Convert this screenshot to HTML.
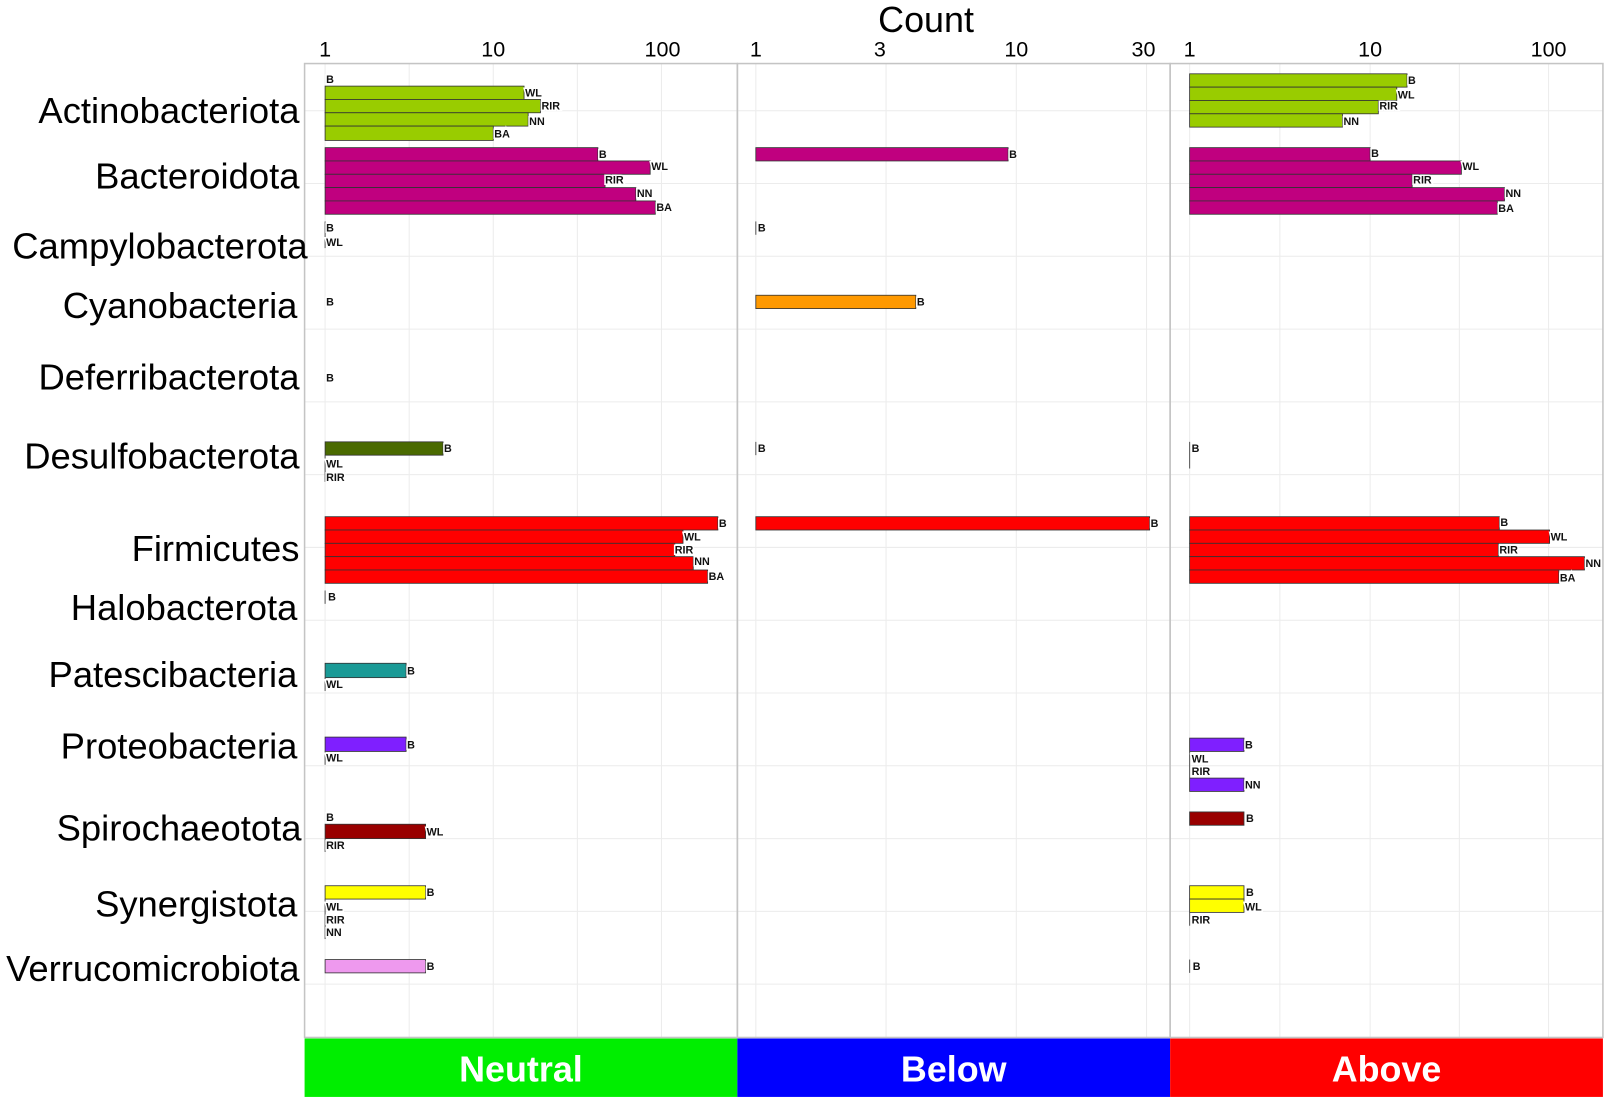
<!DOCTYPE html>
<html><head><meta charset="utf-8"><style>
html,body{margin:0;padding:0;background:#fff;}
svg{display:block;font-family:"Liberation Sans",Arial,sans-serif;}
.cat{font-size:35.5px;text-anchor:end;fill:#000;}
.tk{font-size:21px;text-anchor:middle;fill:#000;}
.lb{font-size:10.5px;font-weight:bold;fill:#111;paint-order:stroke;stroke:#fff;stroke-width:3px;}
.g{stroke:#ececec;stroke-width:1;}
.bar{stroke:#333;stroke-width:0.8;}
.strip{font-size:35px;font-weight:bold;fill:#fff;text-anchor:middle;}
.z{stroke:#555;stroke-width:1;}
</style></head><body>
<svg width="1606" height="1100" viewBox="0 0 1566 1073" preserveAspectRatio="none">
<rect x="0" y="0" width="1566" height="1073" fill="#fff"/>
<g class="g">
<line x1="297" x2="1563" y1="108" y2="108"/><line x1="297" x2="1563" y1="179" y2="179"/>
<line x1="297" x2="1563" y1="250" y2="250"/><line x1="297" x2="1563" y1="321" y2="321"/>
<line x1="297" x2="1563" y1="392" y2="392"/><line x1="297" x2="1563" y1="463" y2="463"/>
<line x1="297" x2="1563" y1="534" y2="534"/><line x1="297" x2="1563" y1="605" y2="605"/>
<line x1="297" x2="1563" y1="676" y2="676"/><line x1="297" x2="1563" y1="747" y2="747"/>
<line x1="297" x2="1563" y1="818" y2="818"/><line x1="297" x2="1563" y1="889" y2="889"/>
<line x1="297" x2="1563" y1="960" y2="960"/>
<line x1="317" x2="317" y1="62" y2="1012"/><line x1="399" x2="399" y1="62" y2="1012"/>
<line x1="481" x2="481" y1="62" y2="1012"/><line x1="563" x2="563" y1="62" y2="1012"/>
<line x1="645" x2="645" y1="62" y2="1012"/>
<line x1="737" x2="737" y1="62" y2="1012"/><line x1="864" x2="864" y1="62" y2="1012"/>
<line x1="991" x2="991" y1="62" y2="1012"/><line x1="1118" x2="1118" y1="62" y2="1012"/>
<line x1="1160" x2="1160" y1="62" y2="1012"/><line x1="1248" x2="1248" y1="62" y2="1012"/>
<line x1="1336" x2="1336" y1="62" y2="1012"/><line x1="1423" x2="1423" y1="62" y2="1012"/>
<line x1="1510" x2="1510" y1="62" y2="1012"/>
</g>
<g fill="none" stroke="#c4c4c4" stroke-width="1.5">
<rect x="297" y="62" width="422" height="950"/>
<rect x="719" y="62" width="422" height="950"/>
<rect x="1141" y="62" width="422" height="950"/>
</g>
<text x="903" y="31" font-size="35" text-anchor="middle">Count</text>
<text class="tk" x="317" y="55">1</text><text class="tk" x="481" y="55">10</text><text class="tk" x="646" y="55">100</text>
<text class="tk" x="737" y="55">1</text><text class="tk" x="858" y="55">3</text><text class="tk" x="991" y="55">10</text><text class="tk" x="1115" y="55">30</text>
<text class="tk" x="1160" y="55">1</text><text class="tk" x="1336" y="55">10</text><text class="tk" x="1510" y="55">100</text>
<text class="cat" x="292" y="120">Actinobacteriota</text>
<text class="cat" x="292" y="184">Bacteroidota</text>
<text class="cat" x="300" y="252">Campylobacterota</text>
<text class="cat" x="290" y="310">Cyanobacteria</text>
<text class="cat" x="292" y="380">Deferribacterota</text>
<text class="cat" x="292" y="457">Desulfobacterota</text>
<text class="cat" x="292" y="547">Firmicutes</text>
<text class="cat" x="290" y="605">Halobacterota</text>
<text class="cat" x="290" y="670">Patescibacteria</text>
<text class="cat" x="290" y="740">Proteobacteria</text>
<text class="cat" x="294" y="820">Spirochaeotota</text>
<text class="cat" x="290" y="894">Synergistota</text>
<text class="cat" x="292" y="957">Verrucomicrobiota</text>

<g class="bar">
<rect x="317" y="84" width="194" height="13" fill="#99cc00"/>
<rect x="317" y="97" width="210" height="13" fill="#99cc00"/>
<rect x="317" y="110" width="198" height="13" fill="#99cc00"/>
<rect x="317" y="123" width="164" height="14" fill="#99cc00"/>
<rect x="317" y="144" width="266" height="13" fill="#c0007f"/>
<rect x="317" y="157" width="317" height="13" fill="#c0007f"/>
<rect x="317" y="170" width="273" height="13" fill="#c0007f"/>
<rect x="317" y="183" width="303" height="13" fill="#c0007f"/>
<rect x="317" y="196" width="322" height="13" fill="#c0007f"/>
<rect x="317" y="431" width="115" height="13" fill="#4a6a00"/>
<rect x="317" y="504" width="383" height="13" fill="#ff0000"/>
<rect x="317" y="517" width="349" height="13" fill="#ff0000"/>
<rect x="317" y="530" width="341" height="13" fill="#ff0000"/>
<rect x="317" y="543" width="359" height="13" fill="#ff0000"/>
<rect x="317" y="556" width="373" height="13" fill="#ff0000"/>
<rect x="317" y="647" width="79" height="14" fill="#1a9a96"/>
<rect x="317" y="719" width="79" height="14" fill="#7f1fff"/>
<rect x="317" y="804" width="98" height="14" fill="#990000"/>
<rect x="317" y="864" width="98" height="13" fill="#ffff00"/>
<rect x="317" y="936" width="98" height="13" fill="#ee99ee"/>
<rect x="737" y="144" width="246" height="13" fill="#c0007f"/>
<rect x="737" y="288" width="156" height="13" fill="#ff9900"/>
<rect x="737" y="504" width="384" height="13" fill="#ff0000"/>
<rect x="1160" y="72" width="212" height="13" fill="#99cc00"/>
<rect x="1160" y="85" width="202" height="13" fill="#99cc00"/>
<rect x="1160" y="98" width="184" height="13" fill="#99cc00"/>
<rect x="1160" y="111" width="149" height="13" fill="#99cc00"/>
<rect x="1160" y="144" width="176" height="13" fill="#c0007f"/>
<rect x="1160" y="157" width="265" height="13" fill="#c0007f"/>
<rect x="1160" y="170" width="217" height="13" fill="#c0007f"/>
<rect x="1160" y="183" width="307" height="13" fill="#c0007f"/>
<rect x="1160" y="196" width="300" height="13" fill="#c0007f"/>
<rect x="1160" y="504" width="302" height="13" fill="#ff0000"/>
<rect x="1160" y="517" width="351" height="13" fill="#ff0000"/>
<rect x="1160" y="530" width="301" height="13" fill="#ff0000"/>
<rect x="1160" y="543" width="385" height="13" fill="#ff0000"/>
<rect x="1160" y="556" width="360" height="13" fill="#ff0000"/>
<rect x="1160" y="720" width="53" height="13" fill="#7f1fff"/>
<rect x="1160" y="759" width="53" height="13" fill="#7f1fff"/>
<rect x="1160" y="792" width="53" height="13" fill="#990000"/>
<rect x="1160" y="864" width="53" height="13" fill="#ffff00"/>
<rect x="1160" y="877" width="53" height="13" fill="#ffff00"/>
</g>
<!-- zero-width bar stubs -->
<g class="z">
<line x1="317" x2="317" y1="216" y2="242"/><line x1="317" x2="317" y1="444" y2="470"/>
<line x1="317" x2="317" y1="576" y2="589"/><line x1="317" x2="317" y1="661" y2="674"/>
<line x1="317" x2="317" y1="733" y2="746"/><line x1="317" x2="317" y1="818" y2="831"/>
<line x1="317" x2="317" y1="877" y2="916"/>
<line x1="737" x2="737" y1="216" y2="229"/><line x1="737" x2="737" y1="431" y2="444"/>
<line x1="1160" x2="1160" y1="431" y2="457"/><line x1="1160" x2="1160" y1="733" y2="759"/>
<line x1="1160" x2="1160" y1="890" y2="903"/><line x1="1160" x2="1160" y1="936" y2="949"/>
</g>
<g class="lb">
<text x="318" y="81">B</text><text x="512" y="94">WL</text><text x="528" y="107">RIR</text><text x="516" y="122">NN</text><text x="482" y="134">BA</text>
<text x="584" y="154">B</text><text x="635" y="166">WL</text><text x="590" y="179">RIR</text><text x="621" y="192">NN</text><text x="640" y="206">BA</text>
<text x="318" y="226">B</text><text x="318" y="240">WL</text>
<text x="318" y="298">B</text><text x="318" y="372">B</text>
<text x="433" y="441">B</text><text x="318" y="456">WL</text><text x="318" y="469">RIR</text>
<text x="701" y="514">B</text><text x="667" y="527">WL</text><text x="658" y="540">RIR</text><text x="677" y="551">NN</text><text x="691" y="566">BA</text>
<text x="320" y="586">B</text>
<text x="397" y="658">B</text><text x="318" y="671">WL</text>
<text x="397" y="730">B</text><text x="318" y="743">WL</text>
<text x="318" y="801">B</text><text x="416" y="815">WL</text><text x="318" y="828">RIR</text>
<text x="416" y="874">B</text><text x="318" y="888">WL</text><text x="318" y="901">RIR</text><text x="318" y="913">NN</text>
<text x="416" y="946">B</text>
<text x="984" y="154">B</text><text x="739" y="226">B</text><text x="894" y="298">B</text><text x="739" y="441">B</text><text x="1122" y="514">B</text>
<text x="1373" y="82">B</text><text x="1363" y="96">WL</text><text x="1345" y="107">RIR</text><text x="1310" y="122">NN</text>
<text x="1337" y="153">B</text><text x="1426" y="166">WL</text><text x="1378" y="179">RIR</text><text x="1468" y="192">NN</text><text x="1461" y="207">BA</text>
<text x="1162" y="441">B</text>
<text x="1463" y="513">B</text><text x="1512" y="527">WL</text><text x="1462" y="540">RIR</text><text x="1546" y="553">NN</text><text x="1521" y="567">BA</text>
<text x="1214" y="730">B</text><text x="1162" y="744">WL</text><text x="1162" y="756">RIR</text><text x="1214" y="769">NN</text>
<text x="1215" y="802">B</text>
<text x="1215" y="874">B</text><text x="1214" y="888">WL</text><text x="1162" y="901">RIR</text>
<text x="1163" y="946">B</text>
</g>
<rect x="297" y="1013" width="422" height="57" fill="#00ee00"/>
<rect x="719" y="1013" width="422" height="57" fill="#0000ff"/>
<rect x="1141" y="1013" width="422" height="57" fill="#ff0000"/>
<text class="strip" x="508" y="1055">Neutral</text>
<text class="strip" x="930" y="1055">Below</text>
<text class="strip" x="1352" y="1055">Above</text>
</svg>
</body></html>
